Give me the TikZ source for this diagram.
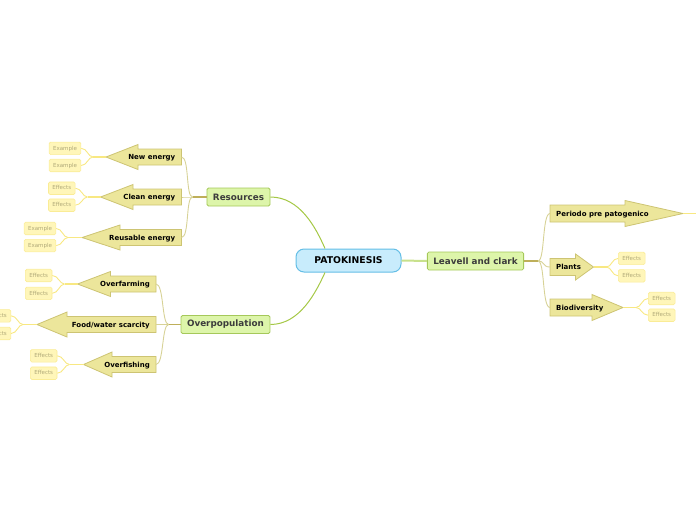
\documentclass[tikz,border=0pt]{standalone}
\usepackage{fontspec}
\setmainfont{DejaVu Sans}
\definecolor{centralfill}{RGB}{200,236,252}
\definecolor{centraldraw}{RGB}{100,190,230}
\definecolor{mainfill}{RGB}{221,245,170}
\definecolor{maindraw}{RGB}{165,200,90}
\definecolor{maintext}{RGB}{60,60,60}
\definecolor{arrowfill}{RGB}{236,230,155}
\definecolor{arrowdraw}{RGB}{205,196,115}
\definecolor{leaffill}{RGB}{255,246,185}
\definecolor{leafdraw}{RGB}{250,236,150}
\definecolor{leaftext}{RGB}{175,168,120}
\definecolor{linkonec}{RGB}{165,200,70}
\definecolor{linkcenterc}{RGB}{200,225,140}
\definecolor{linktwoc}{RGB}{215,210,150}
\definecolor{linkthreec}{RGB}{248,232,130}
\definecolor{stubc}{RGB}{190,175,90}
\tikzset{
  central/.style={draw=centraldraw, fill=centralfill, line width=1pt, rounded corners=8pt,
    minimum width=105pt, minimum height=23pt, inner sep=0pt,
    font=\fontsize{9.3}{11}\selectfont\bfseries, text=black},
  mainnode/.style={draw=maindraw, fill=mainfill, line width=0.8pt, rounded corners=1.5pt,
    minimum height=18pt, inner xsep=6pt, inner ysep=0pt,
    font=\fontsize{8.8}{10}\selectfont\bfseries, text=maintext},
  arrowbox/.style={draw=arrowdraw, fill=arrowfill, line width=0.8pt, line join=miter},
  arrowtext/.style={font=\fontsize{7}{8}\selectfont\bfseries, text=black, inner sep=0pt},
  leaf/.style={draw=leafdraw, fill=leaffill, line width=0.6pt, rounded corners=1.5pt,
    minimum height=12.5pt, inner xsep=4pt, inner ysep=0pt, text height=4pt, text depth=0.6pt,
    font=\fontsize{5.5}{6}\selectfont, text=leaftext},
  linkone/.style={draw=linkonec, line width=1pt},
  linkcenter/.style={draw=linkcenterc, line width=2pt},
  linktwo/.style={draw=linktwoc, line width=0.9pt},
  stub/.style={draw=stubc, line width=1.4pt},
  linkthree/.style={draw=linkthreec, line width=0.9pt},
}
% name, y, tip x, head base x, body right x, text
\newcommand\mmLeftArrow[6]{%
  \draw[arrowbox] (#5,#2-8) -- (#4,#2-8) -- (#4,#2-12.5) -- (#3,#2) -- (#4,#2+12.5)
     -- (#4,#2+8) -- (#5,#2+8) -- cycle;
  \node[arrowtext, anchor=base east] (#1) at (#5-6,#2+2.6) {#6};
  \coordinate (#1-tip) at (#3,#2);
  \coordinate (#1-end) at (#5,#2);
}
% name, y, tip x, head base x, body left x, text
\newcommand\mmRightArrow[6]{%
  \draw[arrowbox] (#5,#2-8.5) -- (#4,#2-8.5) -- (#4,#2-13) -- (#3,#2) -- (#4,#2+13)
     -- (#4,#2+8.5) -- (#5,#2+8.5) -- cycle;
  \node[arrowtext, anchor=base west] (#1) at (#5+6,#2+2.6) {#6};
  \coordinate (#1-tip) at (#3,#2);
  \coordinate (#1-end) at (#5,#2);
}
\begin{document}
\begin{tikzpicture}[x=1pt, y=-1pt]
\useasboundingbox (0,0) rectangle (696,520);

% ---------- main nodes ----------
\node[central] (c) at (348.5,260.5) {PATOKINESIS};
\node[mainnode] (res) at (238.5,197) {Resources};
\node[mainnode] (ovp) at (225.5,324.5) {Overpopulation};
\node[mainnode] (lc) at (475.5,261) {Leavell and clark};

% ---------- left arrows ----------
\mmLeftArrow{ne}{157}{106}{138}{181.5}{New energy}
\mmLeftArrow{ce}{197}{100.5}{133}{181.5}{Clean energy}
\mmLeftArrow{re}{237.5}{82}{120}{181.5}{Reusable energy}
\mmLeftArrow{of}{284}{77.5}{110.5}{156}{Overfarming}
\mmLeftArrow{fw}{324.5}{37}{67}{156}{Food/water scarcity}
\mmLeftArrow{ofi}{364.5}{83.5}{112}{156}{Overfishing}

% ---------- right arrows ----------
\mmRightArrow{pp}{213.5}{683}{625}{550}{Periodo pre patogenico}
\mmRightArrow{pl}{267}{593.5}{575.5}{550}{Plants}
\mmRightArrow{bd}{307.5}{623}{592}{550}{Biodiversity}

% ---------- leaves ----------
\node[leaf] (ne1) at (65,148.3) {Example};
\node[leaf] (ne2) at (65,165.5) {Example};
\node[leaf] (ce1) at (61.8,188.2) {Effects};
\node[leaf] (ce2) at (61.8,205.2) {Effects};
\node[leaf] (re1) at (40,228.5) {Example};
\node[leaf] (re2) at (40,245.6) {Example};
\node[leaf] (of1) at (38.7,275.5) {Effects};
\node[leaf] (of2) at (38.7,293.3) {Effects};
\node[leaf] (fw1) at (-2.5,315.8) {Effects};
\node[leaf] (fw2) at (-2.5,333.5) {Effects};
\node[leaf] (ofi1) at (43.7,355.8) {Effects};
\node[leaf] (ofi2) at (43.7,373.2) {Effects};
\node[leaf] (pl1) at (631.7,258.4) {Effects};
\node[leaf] (pl2) at (631.7,275.8) {Effects};
\node[leaf] (bd1) at (661.7,298.5) {Effects};
\node[leaf] (bd2) at (661.7,315.2) {Effects};
\coordinate (ppout) at (700,213.5);

% ---------- connectors: central ----------
\draw[linkone] (res.east) .. controls (300,197) and (316,228) .. ([xshift=-23.5pt]c.north);
\draw[linkone] (ovp.east) .. controls (300,324.5) and (316,292) .. ([xshift=-23.5pt]c.south);
\draw[linkcenter] (c.east) -- (lc.west);

% ---------- Resources ----------
\draw[stub] (res.west) -- ++(-14,0) coordinate (resb);
\foreach \t in {ne,ce,re}{
  \draw[linktwo] (resb) .. controls +(-7,0) and +(8,0) .. (\t-end);
}
% ---------- Overpopulation ----------
\draw[stub] (ovp.west) -- ++(-12,0) coordinate (ovpb);
\foreach \t in {of,fw,ofi}{
  \draw[linktwo] (ovpb) .. controls +(-7,0) and +(8,0) .. (\t-end);
}
% ---------- Leavell and clark ----------
\draw[stub] (lc.east) -- ++(14,0) coordinate (lcb);
\foreach \t in {pp,pl,bd}{
  \draw[linktwo] (lcb) .. controls +(7,0) and +(-8,0) .. (\t-end);
}

% ---------- leaf links, left ----------
\foreach \t/\d in {ne/13,ce/13,re/14,of/13,fw/14,ofi/14}{
  \draw[linkthree, line width=1.3pt] (\t-tip) -- ++(-\d,0) coordinate (\t-b);
  \draw[linkthree] (\t-b) .. controls +(-5,0) and +(6,0) .. (\t1.east);
  \draw[linkthree] (\t-b) .. controls +(-5,0) and +(6,0) .. (\t2.east);
}
% ---------- leaf links, right ----------
\foreach \t/\d in {pl/13,bd/13}{
  \draw[linkthree, line width=1.3pt] (\t-tip) -- ++(\d,0) coordinate (\t-b);
  \draw[linkthree] (\t-b) .. controls +(5,0) and +(-6,0) .. (\t1.west);
  \draw[linkthree] (\t-b) .. controls +(5,0) and +(-6,0) .. (\t2.west);
}
\draw[linkthree, line width=1.3pt] (pp-tip) -- (ppout);
\end{tikzpicture}
\end{document}
